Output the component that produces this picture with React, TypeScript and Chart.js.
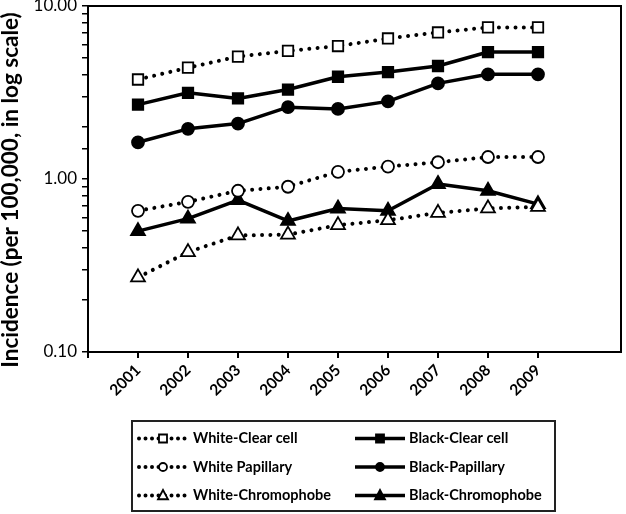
import React, { useEffect, useRef } from 'react';
import { Chart, registerables } from 'chart.js';

Chart.register(...registerables);

const years = [2001, 2002, 2003, 2004, 2005, 2006, 2007, 2008, 2009];
const whiteClearCell = [3.76, 4.4, 5.1, 5.5, 5.87, 6.49, 7.03, 7.52, 7.52];
const whitePapillary = [0.655, 0.738, 0.855, 0.902, 1.1, 1.18, 1.25, 1.34, 1.34];
const whiteChromophobe = [0.27, 0.378, 0.472, 0.477, 0.541, 0.578, 0.637, 0.676, 0.69];
const blackClearCell = [2.69, 3.15, 2.92, 3.29, 3.9, 4.15, 4.5, 5.42, 5.42];
const blackPapillary = [1.63, 1.95, 2.09, 2.6, 2.54, 2.81, 3.57, 4.03, 4.03];
const blackChromophobe = [0.5, 0.59, 0.755, 0.572, 0.675, 0.655, 0.935, 0.855, 0.716];
const yTickLabels = [0.1, 1, 10];
const yAxisTitle = 'Incidence (per 100,000, in log scale)';

const FONT = "Lato, 'Liberation Sans', sans-serif";

type SeriesDef = {
  label: string;
  values: number[];
  dotted: boolean;
  shape: 'rect' | 'circle' | 'triangle';
};

const series: SeriesDef[] = [
  { label: 'White-Clear cell', values: whiteClearCell, dotted: true, shape: 'rect' },
  { label: 'White Papillary', values: whitePapillary, dotted: true, shape: 'circle' },
  { label: 'White-Chromophobe', values: whiteChromophobe, dotted: true, shape: 'triangle' },
  { label: 'Black-Clear cell', values: blackClearCell, dotted: false, shape: 'rect' },
  { label: 'Black-Papillary', values: blackPapillary, dotted: false, shape: 'circle' },
  { label: 'Black-Chromophobe', values: blackChromophobe, dotted: false, shape: 'triangle' },
];

const radiusFor = (shape: string) => (shape === 'rect' ? 7.4 : shape === 'circle' ? 6 : 8);

function drawMarker(ctx: CanvasRenderingContext2D, shape: string, x: number, y: number, r: number, open: boolean) {
  ctx.beginPath();
  if (shape === 'rect') {
    ctx.rect(x - r, y - r, 2 * r, 2 * r);
  } else if (shape === 'circle') {
    ctx.arc(x, y, r, 0, Math.PI * 2);
  } else {
    ctx.moveTo(x, y - r * 1.1);
    ctx.lineTo(x + r, y + r * 0.75);
    ctx.lineTo(x - r, y + r * 0.75);
    ctx.closePath();
  }
  ctx.fillStyle = open ? '#fff' : '#000';
  ctx.fill();
  ctx.lineWidth = 1.8;
  ctx.strokeStyle = '#000';
  ctx.stroke();
}

const framePlugin = {
  id: 'frameAndLegend',
  beforeDatasetsDraw(chart: any) {
    const { ctx, chartArea } = chart;
    ctx.save();
    ctx.strokeStyle = '#000';
    ctx.lineWidth = 2;
    ctx.beginPath();
    ctx.moveTo(chartArea.left, chartArea.top);
    ctx.lineTo(chartArea.right, chartArea.top);
    ctx.lineTo(chartArea.right, chartArea.bottom);
    ctx.stroke();
    ctx.restore();
  },
  afterDraw(chart: any) {
    const ctx: CanvasRenderingContext2D = chart.ctx;
    ctx.save();
    // y axis title
    ctx.translate(11, 190);
    ctx.rotate(-Math.PI / 2);
    ctx.fillStyle = '#000';
    ctx.font = `bold 22.5px ${FONT}`;
    ctx.textAlign = 'center';
    ctx.textBaseline = 'middle';
    ctx.fillText(yAxisTitle, 0, 0);
    ctx.restore();

    // legend box
    ctx.save();
    ctx.strokeStyle = '#222';
    ctx.lineWidth = 2;
    ctx.strokeRect(132, 421, 423, 90);
    const rows = [438.5, 467, 495.5];
    const cols = [
      { x0: 139, x1: 185, mx: 163, tx: 193 },
      { x0: 355, x1: 405, mx: 380, tx: 409 },
    ];
    series.forEach((s, i) => {
      const c = cols[i < 3 ? 0 : 1];
      const y = rows[i % 3];
      ctx.save();
      ctx.strokeStyle = '#000';
      if (s.dotted) {
        ctx.lineWidth = 4;
        ctx.lineCap = 'round';
        ctx.setLineDash([0.001, 6.5]);
      } else {
        ctx.lineWidth = 3.5;
        ctx.lineCap = 'butt';
      }
      ctx.beginPath();
      ctx.moveTo(c.x0, y);
      ctx.lineTo(c.x1, y);
      ctx.stroke();
      ctx.restore();
      drawMarker(ctx, s.shape, c.mx, y, s.shape === 'triangle' ? 5 : 4, s.dotted);
      ctx.fillStyle = '#000';
      ctx.font = `bold 14.5px ${FONT}`;
      ctx.textAlign = 'left';
      ctx.textBaseline = 'middle';
      ctx.fillText(s.label, c.tx, y);
    });
    ctx.restore();
  },
};

const isDecade = (v: number) => {
  const l = Math.log10(v);
  return Math.abs(l - Math.round(l)) < 1e-6;
};

export default function App() {
  const canvasRef = useRef<HTMLCanvasElement | null>(null);

  useEffect(() => {
    document.body.style.margin = '0';
    const canvas = canvasRef.current;
    if (!canvas) return;
    const datasets = series.map((s) => ({
      label: s.label,
      data: years.map((yr, i) => ({ x: yr, y: s.values[i] })),
      borderColor: '#000',
      backgroundColor: s.dotted ? '#fff' : '#000',
      borderWidth: s.dotted ? 4 : 3.5,
      borderDash: s.dotted ? [0.001, 8.3] : [],
      borderCapStyle: s.dotted ? 'round' : 'butt',
      borderJoinStyle: 'round',
      pointStyle: s.shape,
      pointRadius: radiusFor(s.shape),
      pointBorderWidth: 1.8,
      pointBackgroundColor: s.dotted ? '#fff' : '#000',
      pointBorderColor: '#000',
      tension: 0,
      fill: false,
    }));

    const chart = new Chart(canvas, {
      type: 'line',
      data: { datasets } as any,
      plugins: [framePlugin as any],
      options: {
        animation: false,
        responsive: false,
        maintainAspectRatio: false,
        layout: { autoPadding: false, padding: { top: 6, right: 5, left: 0, bottom: 0 } },
        plugins: {
          legend: { display: false },
          tooltip: { enabled: false },
        },
        scales: {
          x: {
            type: 'linear',
            min: 2000,
            max: 2010.66,
            afterFit: (scale: any) => {
              scale.height = 162;
              scale.paddingLeft = 0;
              scale.paddingRight = 0;
              scale.paddingTop = 0;
              scale.paddingBottom = 0;
            },
            border: { display: true, color: '#000', width: 2 },
            grid: {
              drawOnChartArea: false,
              drawTicks: true,
              tickLength: 6,
              lineWidth: 2,
              color: (c: any) => (c.tick && c.tick.value > 2009 ? 'rgba(0,0,0,0)' : '#000'),
            },
            ticks: {
              stepSize: 1,
              autoSkip: false,
              includeBounds: false,
              maxRotation: 45,
              minRotation: 45,
              padding: 3,
              color: '#000',
              font: { family: FONT, size: 15.5, weight: 'bold' },
              callback: (v: any) => {
                const n = Number(v);
                return years.includes(n) ? String(n) : '';
              },
            },
          },
          y: {
            type: 'logarithmic',
            min: 0.1,
            max: 10,
            afterFit: (scale: any) => {
              scale.width = 88;
              scale.paddingTop = 0;
              scale.paddingBottom = 0;
              scale.paddingLeft = 0;
              scale.paddingRight = 0;
            },
            border: { display: true, color: '#000', width: 2 },
            grid: {
              drawOnChartArea: false,
              drawTicks: true,
              tickLength: 6,
              lineWidth: 1.5,
              color: '#000',
            },
            ticks: {
              autoSkip: false,
              padding: 5,
              color: '#000',
              font: { family: FONT, size: 17 },
              callback: (v: any) => {
                const n = Number(v);
                return isDecade(n) && yTickLabels.some((t) => Math.abs(t - n) < 1e-9) ? n.toFixed(2) : '';
              },
            },
          },
        },
      } as any,
    });
    return () => chart.destroy();
  }, []);

  return (
    <div style={{ width: 626, height: 514 }}>
      <canvas ref={canvasRef} width={626} height={514} style={{ display: 'block', width: 626, height: 514 }} />
    </div>
  );
}
